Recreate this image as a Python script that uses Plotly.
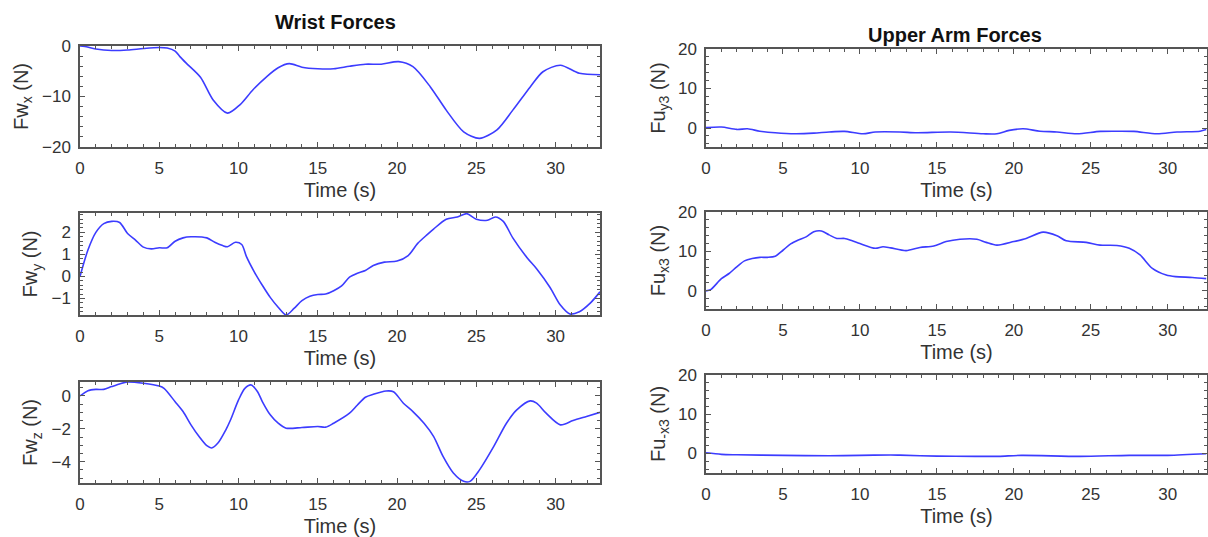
import plotly.graph_objects as go

# ---------------- data ----------------
t_wx = [0, 0.3, 1, 2, 3, 4, 5, 5.5, 6, 6.3, 6.7, 7.6, 8.4, 9.3, 10.1, 10.9, 11.8, 12.5, 13.2, 14, 15, 16, 17, 18, 19, 20.1,
        21.0, 22.1, 23.1, 24.2, 25.2, 26.3, 27.3, 28.4, 29.2, 30.3, 31.5, 32.8]
fw_x = [0, -0.1, -0.6, -0.9, -0.8, -0.5, -0.3, -0.4, -1.0, -2.1, -3.4, -6.2, -10.7, -13.3, -11.6, -8.7, -6.0, -4.3, -3.5,
        -4.2, -4.5, -4.5, -4.0, -3.6, -3.6, -3.1, -4.1, -8.1, -12.7, -17.0, -18.3, -16.6, -12.7, -8.1, -5.1, -3.8, -5.4, -5.7]

t_wy = [0, 0.5, 1, 1.5, 2, 2.5, 3, 3.5, 4, 4.5, 5, 5.5, 6, 6.5, 7, 8, 8.5, 9, 9.3, 9.8, 10.2, 10.5, 11, 11.5, 12, 12.5,
        13, 13.5, 14, 14.5, 15, 15.5, 16, 16.5, 17, 17.5, 18, 18.5, 19.2, 20, 20.7, 21.3, 21.9, 22.3, 23.1, 23.8, 24.4,
        25.0, 25.7, 26.2, 26.7, 27.3, 28.2, 28.8, 29.65, 30.3, 30.9, 31.5, 32.2, 32.8]
fw_y = [0, 1.2, 2.0, 2.4, 2.5, 2.45, 1.95, 1.65, 1.33, 1.25, 1.3, 1.3, 1.6, 1.75, 1.8, 1.75, 1.55, 1.4, 1.35, 1.55, 1.45,
        0.9, 0.2, -0.4, -0.95, -1.4, -1.75, -1.45, -1.1, -0.9, -0.82, -0.8, -0.65, -0.43, -0.03, 0.15, 0.27, 0.5, 0.65,
        0.7, 0.95, 1.5, 1.9, 2.15, 2.6, 2.7, 2.85, 2.6, 2.55, 2.7, 2.5, 1.75, 0.85, 0.35, -0.5, -1.3, -1.7, -1.6, -1.2, -0.7]

t_wz = [0, 0.5, 1, 1.5, 2, 2.5, 3, 4, 5, 5.3, 6, 6.5, 7, 7.5, 8, 8.3, 8.7, 9.2, 9.5, 10, 10.4, 10.8, 11.2, 11.5, 12, 12.5,
        13, 14, 15, 15.5, 16, 17, 17.5, 18, 18.5, 19.3, 19.77, 20.4, 21.0, 21.7, 22.3, 22.9, 23.55, 24.2, 24.6, 25.2,
        26.1, 26.9, 27.55, 28.4, 28.8, 29.4, 30.3, 31.1, 31.95, 32.8]
fw_z = [0, 0.32, 0.4, 0.4, 0.57, 0.73, 0.85, 0.77, 0.6, 0.46, -0.35, -0.95, -1.76, -2.46, -3.03, -3.17, -2.87, -2.06,
        -1.45, -0.24, 0.46, 0.67, 0.26, -0.34, -1.15, -1.66, -1.96, -1.92, -1.86, -1.9, -1.66, -1.05, -0.55, -0.08, 0.1,
        0.3, 0.26, -0.44, -0.95, -1.66, -2.46, -3.68, -4.69, -5.2, -5.2, -4.5, -3.07, -1.66, -0.85, -0.3, -0.44, -1.05,
        -1.76, -1.5, -1.25, -1.0]

t_uy = [0, 1, 2, 2.7, 3.5, 4.5, 5.8, 7, 8, 9, 10.2, 11, 12.6, 13.7, 15.9, 18.0, 18.9, 19.7, 20.6, 21.7, 22.8, 24.1,
        25.6, 26.7, 27.8, 29.3, 30.6, 32.1, 32.5]
fu_y3 = [0.1, 0.25, -0.35, -0.2, -0.8, -1.2, -1.45, -1.3, -1.0, -0.85, -1.45, -1.0, -1.0, -1.2, -1.0, -1.45, -1.45,
         -0.6, -0.2, -0.8, -1.0, -1.45, -0.85, -0.8, -0.85, -1.45, -1.0, -0.8, -0.4]

t_ux = [0, 0.3, 1, 1.5, 2, 2.5, 3, 3.5, 4, 4.5, 5, 5.5, 6, 6.5, 7, 7.5, 8, 8.5, 9, 9.5, 10, 11, 11.5, 12, 13, 13.9,
        14.8, 15.6, 16.5, 17.6, 18.2, 18.9, 20.0, 20.8, 21.9, 22.8, 23.4, 24.7, 25.6, 26.7, 27.5, 28.2, 29.0, 29.9,
        30.5, 31.6, 32.5]
fu_x3 = [0, 0.3, 3.1, 4.4, 6.1, 7.6, 8.2, 8.5, 8.5, 8.8, 10.3, 11.9, 12.9, 13.7, 15.0, 15.2, 14.2, 13.3, 13.3, 12.7,
         12.0, 10.8, 11.2, 10.9, 10.2, 11.0, 11.4, 12.5, 13.1, 13.1, 12.3, 11.6, 12.5, 13.3, 14.9, 14.0, 12.7, 12.3,
         11.6, 11.5, 10.8, 9.1, 5.7, 4.0, 3.6, 3.4, 3.1]

t_umx = [0, 1, 2, 5, 8, 10, 12, 12.6, 15, 17.5, 19, 20.5, 24.3, 27.5, 30, 32.5]
fu_mx3 = [0.15, -0.25, -0.35, -0.5, -0.6, -0.5, -0.4, -0.45, -0.7, -0.75, -0.75, -0.5, -0.75, -0.5, -0.5, -0.1]

titles = ["Wrist Forces", "Upper Arm Forces"]
y_titles = ["Fw<sub>x</sub> (N)", "Fw<sub>y</sub> (N)", "Fw<sub>z</sub> (N)",
            "Fu<sub>y3</sub> (N)", "Fu<sub>x3</sub> (N)", "Fu<sub>-x3</sub> (N)"]
x_title = "Time (s)"

# ---------------- figure ----------------
W, H = 1208, 537
FONT = "Liberation Sans, Arial, sans-serif"
TXT = "#333333"
AX = "#555555"
BLUE = "#3c3cff"

series = [(t_wx, fw_x), (t_wy, fw_y), (t_wz, fw_z), (t_uy, fu_y3), (t_ux, fu_x3), (t_umx, fu_mx3)]

# pixel boxes: (left, right, top, bottom)
boxes = [(80, 600, 46, 147), (80, 600, 213, 315), (80, 600, 382, 483),
         (706, 1207, 49, 147), (706, 1207, 212, 309), (706, 1207, 375, 473)]
yranges = [[-20, 0], [-1.75, 2.88], [-5.3, 0.85], [-4.8, 20], [-4.6, 20], [-5, 20]]
ytick = [(10, 2), (1, 0.2), (2, 0.5), (10, 2), (10, 2), (10, 2)]
xranges = [[0, 32.8]] * 3 + [[0, 32.55]] * 3

fig = go.Figure()
layout = dict(width=W, height=H, margin=dict(l=0, r=0, t=0, b=0, autoexpand=False), paper_bgcolor="white",
              plot_bgcolor="white", showlegend=False, font=dict(family=FONT, color=TXT, size=17))

for i, ((tt, vv), (l, r, tp, bt)) in enumerate(zip(series, boxes)):
    n = "" if i == 0 else str(i + 1)
    fig.add_trace(go.Scatter(x=tt, y=vv, mode="lines", line=dict(color=BLUE, width=1.6, shape="spline", smoothing=0.8),
                             xaxis="x" + n, yaxis="y" + n, hoverinfo="skip"))
    common = dict(showline=True, linecolor=AX, linewidth=1.5, mirror="allticks", ticks="inside", ticklen=5,
                  tickcolor=AX, tickwidth=1.2, showgrid=False, zeroline=False, automargin=False,
                  tickfont=dict(family=FONT, size=17, color=TXT))
    layout["xaxis" + n] = dict(common, domain=[l / W, r / W], anchor="y" + n, range=xranges[i],
                               tick0=0, dtick=5, ticklabelstandoff=5,
                               minor=dict(ticks="inside", dtick=1, ticklen=3, tickcolor=AX, showgrid=False),
                               title=dict(text=x_title, font=dict(family=FONT, size=20, color=TXT), standoff=6))
    layout["yaxis" + n] = dict(common, domain=[1 - bt / H, 1 - tp / H], anchor="x" + n, range=yranges[i],
                               tick0=0, dtick=ytick[i][0], ticklabelstandoff=4,
                               minor=dict(ticks="inside", dtick=ytick[i][1], ticklen=3, tickcolor=AX, showgrid=False),
                               title=dict(text=y_titles[i], font=dict(family=FONT, size=20, color=TXT),
                                          standoff=8 if i < 3 else 7))

layout["annotations"] = [
    dict(text="<b>" + titles[0] + "</b>", x=335 / W, y=1 - 22 / H, xref="paper", yref="paper", showarrow=False,
         xanchor="center", yanchor="middle", font=dict(family=FONT, size=20, color="#111111")),
    dict(text="<b>" + titles[1] + "</b>", x=955 / W, y=1 - 35 / H, xref="paper", yref="paper", showarrow=False,
         xanchor="center", yanchor="middle", font=dict(family=FONT, size=20, color="#111111")),
]
fig.update_layout(**layout)
fig.write_html("out.html", config={"displayModeBar": False},
               post_script="document.body.style.margin='0';document.body.style.overflow='hidden';")
